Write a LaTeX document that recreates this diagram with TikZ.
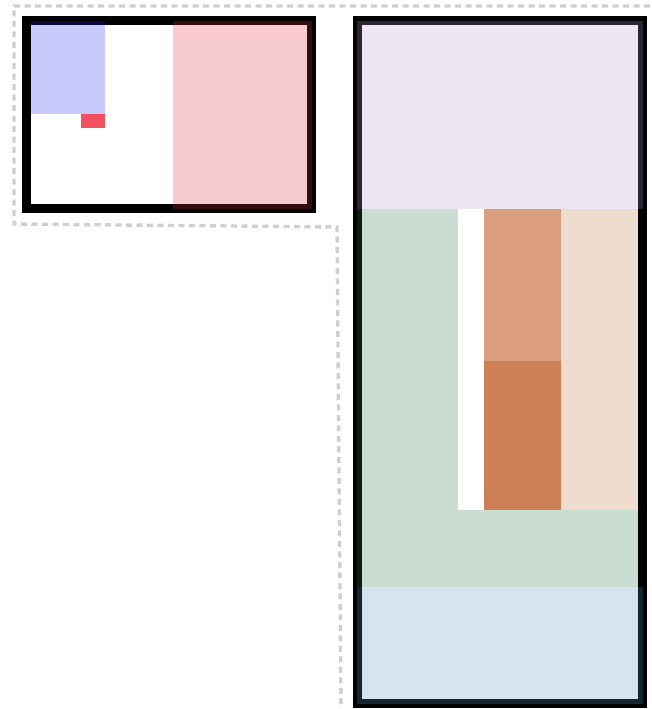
\documentclass[tikz,border=0pt]{standalone}
\usetikzlibrary{positioning}
\definecolor{Guide}{HTML}{CFCFCF}
\definecolor{PaneBlue}{RGB}{35,35,235}
\definecolor{PaneRose}{RGB}{223,43,59}
\definecolor{Marker}{HTML}{F05060}
\definecolor{Lilac}{RGB}{179,151,203}
\definecolor{Sage}{RGB}{39,119,79}
\definecolor{Sky}{RGB}{87,151,187}
\definecolor{Peach}{RGB}{187,115,63}
\definecolor{ClayLight}{HTML}{DA9D7E}
\definecolor{ClayDark}{HTML}{CD7F55}

\begin{document}
\begin{tikzpicture}[x=1pt,y=-1pt,
      frame/.style={draw=black,line width=9pt},
      zone/.style={fill opacity=0.25},
      guide/.style={draw=Guide,line width=3.4pt,
                    dash pattern=on 6pt off 4.5pt}]
    \useasboundingbox (0,0) rectangle (652,709);
    % Dashed outline round the small panel and down the gap.
    \draw[guide] (650,6) -- (14,6) -- (14,224) -- (337,227) -- (341,709);

    % Small panel: frame first, tinted areas over it.
    \draw[frame] (26.5,20.5) rectangle (311.5,208.5);
    \fill[zone,PaneBlue] (31,21) rectangle (105,114);
    \fill[zone,PaneRose] (172.5,21) rectangle (311.5,209);
    \fill[Marker] (81,114) rectangle (105,128);

    % Tall panel, split into bands.
    \draw[frame] (357.5,20.5) rectangle (642.5,703.5);
    \foreach \c/\xa/\ya/\xb/\yb in {
        Lilac/357/21/643/209,Sage/357/209/458/587,Sage/458/510/638/587,
        Peach/561/209/638/510,Sky/357/587/643/704}{%
      \fill[zone,\c] (\xa,\ya) rectangle (\xb,\yb);
    }
    \fill[white] (458,209) rectangle (484,510);
    \fill[ClayLight] (484,209) rectangle (561,361);
    \fill[ClayDark] (484,361) rectangle (561,510);
  \end{tikzpicture}
\end{document}
